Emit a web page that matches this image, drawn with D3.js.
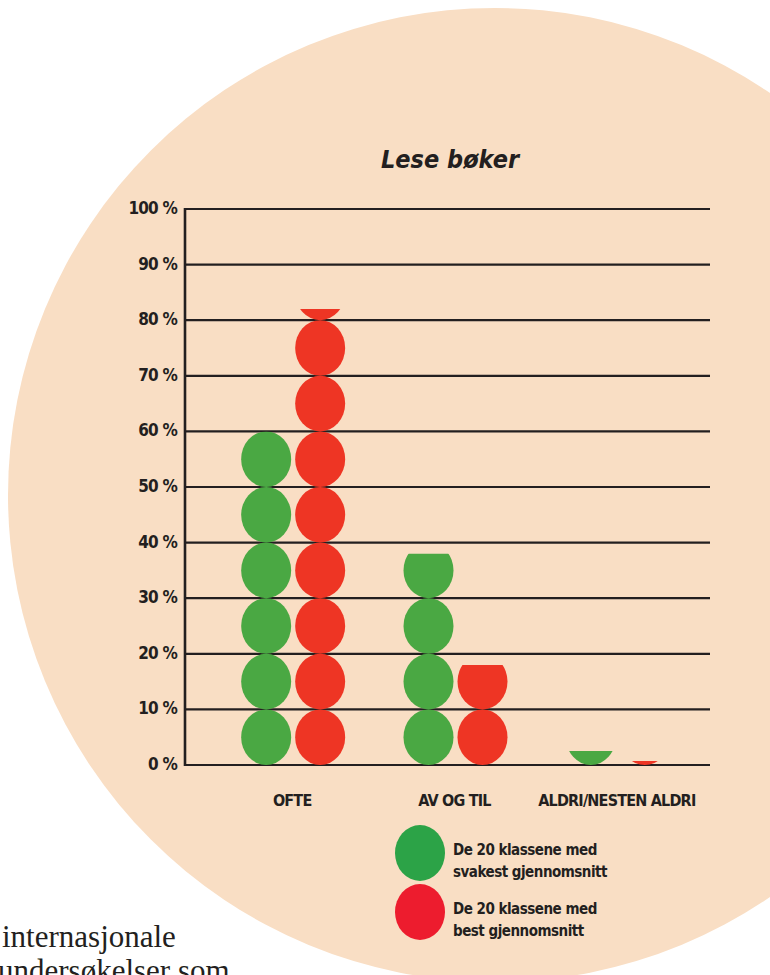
<!DOCTYPE html>
<html>
<head>
<meta charset="utf-8">
<script src="https://cdn.jsdelivr.net/npm/d3@7"></script>
<style>
  html, body { margin: 0; padding: 0; background: #fff; overflow: hidden; }
  .cond { font-family: 'Liberation Sans Narrow', 'DejaVu Sans Condensed', sans-serif; font-weight: bold; fill: #231f20; }
</style>
</head>
<body>
<div class="wrapper"></div>
<script>
const categories = ['OFTE', 'AV OG TIL', 'ALDRI/NESTEN ALDRI']
const series = ['svak', 'best']
const svakValues = [60, 38, 2.5]
const bestValues = [82, 18, 0.7]
const yTicks = [0, 10, 20, 30, 40, 50, 60, 70, 80, 90, 100]
const legendLabels = [
  ['De 20 klassene med', 'svakest gjennomsnitt'],
  ['De 20 klassene med', 'best gjennomsnitt'],
]

const width = 770,
  height = 975

const barColor = { svak: '#4aa843', best: '#ee3524' }
const legendColor = { svak: '#2ca347', best: '#ed1c2e' }

const svg = d3.select('.wrapper')
  .append('svg')
  .attr('width', width)
  .attr('height', height)

// peach background disc
svg.append('circle')
  .attr('cx', 495)
  .attr('cy', 495)
  .attr('r', 487)
  .attr('fill', '#f9dec4')

const y = d3.scaleLinear().domain([0, 100]).range([765, 209])
const x = d3.scaleBand().domain(categories).range([212, 699])
const xInner = d3.scalePoint().domain(series).range([-27, 27])

const step = y(0) - y(10)
const rx = 25, ry = step / 2

// title
svg.append('text')
  .attr('class', 'cond')
  .attr('x', 450)
  .attr('y', 168)
  .attr('text-anchor', 'middle')
  .attr('font-size', '25px')
  .attr('font-style', 'italic')
  .text('Lese bøker')

// grid lines
svg.append('g')
  .selectAll('line')
  .data(yTicks)
  .enter().append('line')
  .attr('x1', 185)
  .attr('x2', 710)
  .attr('y1', d => y(d))
  .attr('y2', d => y(d))
  .attr('stroke', '#231f20')
  .attr('stroke-width', 2.2)

svg.append('line')
  .attr('x1', 185).attr('x2', 185)
  .attr('y1', y(100) - 1).attr('y2', y(0) + 1)
  .attr('stroke', '#231f20')
  .attr('stroke-width', 2.6)

// tick labels
svg.append('g')
  .selectAll('text')
  .data(yTicks)
  .enter().append('text')
  .attr('class', 'cond')
  .attr('x', 177)
  .attr('y', d => y(d) + 5)
  .attr('text-anchor', 'end')
  .attr('font-size', '17px')
  .attr('letter-spacing', '-0.8px')
  .text(d => `${d} %`)

// category labels
svg.append('g')
  .selectAll('text')
  .data(categories)
  .enter().append('text')
  .attr('class', 'cond')
  .attr('x', d => x(d) + x.bandwidth() / 2 - 1)
  .attr('y', 806)
  .attr('text-anchor', 'middle')
  .attr('font-size', '16px')
  .attr('letter-spacing', '-0.8px')
  .text(d => d)

// columns of stacked ellipses, clipped at the value
const columns = []
categories.forEach((c, i) => {
  columns.push({ cat: c, ser: 'svak', value: svakValues[i] })
  columns.push({ cat: c, ser: 'best', value: bestValues[i] })
})

const defs = svg.append('defs')
const cx = d => x(d.cat) + x.bandwidth() / 2 + xInner(d.ser)

columns.forEach((d, i) => {
  defs.append('clipPath')
    .attr('id', `clip-${i}`)
    .append('rect')
    .attr('x', cx(d) - rx - 1)
    .attr('width', rx * 2 + 2)
    .attr('y', y(d.value))
    .attr('height', y(0) - y(d.value))
})

const col = svg.append('g')
  .selectAll('g')
  .data(columns)
  .enter().append('g')
  .attr('clip-path', (d, i) => `url(#clip-${i})`)

col.selectAll('ellipse')
  .data(d => d3.range(Math.ceil(d.value / 10)).map(k => ({ col: d, k })))
  .enter().append('ellipse')
  .attr('cx', d => cx(d.col))
  .attr('cy', d => y(d.k * 10 + 5))
  .attr('rx', rx)
  .attr('ry', ry)
  .attr('fill', d => barColor[d.col.ser])

// legend
const legend = svg.append('g')
  .selectAll('g')
  .data(series)
  .enter().append('g')
  .attr('transform', (d, i) => `translate(420, ${853 + i * 59})`)

legend.append('ellipse')
  .attr('rx', 25)
  .attr('ry', 28)
  .attr('fill', d => legendColor[d])

legend.append('text')
  .attr('class', 'cond')
  .attr('x', 33)
  .attr('font-size', '15px')
  .attr('letter-spacing', '-0.5px')
  .selectAll('tspan')
  .data((d, i) => legendLabels[i])
  .enter().append('tspan')
  .attr('x', 33)
  .attr('y', (d, j) => j === 0 ? 2 : 24)
  .text(d => d)

// running body text at the lower left
svg.append('g')
  .selectAll('text')
  .data(['internasjonale', 'undersøkelser som'])
  .enter().append('text')
  .attr('x', (d, i) => i === 0 ? 2 : -2)
  .attr('y', (d, i) => 947 + i * 34)
  .attr('font-family', "'Liberation Serif', 'DejaVu Serif', serif")
  .attr('font-size', '31px')
  .attr('fill', '#231f20')
  .text(d => d)
</script>
</body>
</html>
